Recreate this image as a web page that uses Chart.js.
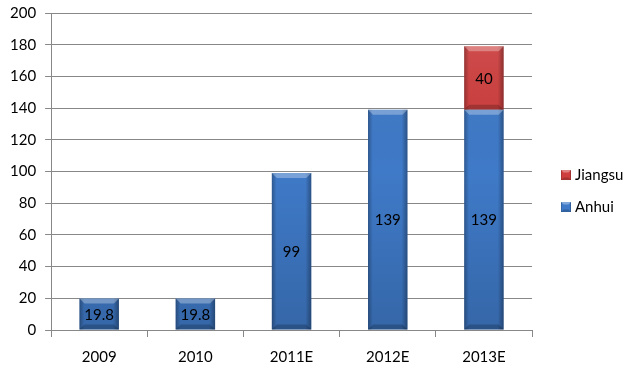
<!DOCTYPE html>
<html><head><meta charset="utf-8">
<script src="https://cdn.jsdelivr.net/npm/chart.js@4/dist/chart.umd.min.js"></script>
<style>html,body{margin:0;padding:0;background:#fff}#wrap{width:639px;height:377px}</style>
</head><body><div id="wrap"><canvas id="c" width="639" height="377"></canvas></div>
<script>
const categories = ["2009", "2010", "2011E", "2012E", "2013E"];
const anhui = [19.8, 19.8, 99, 139, 139];
const jiangsu = [null, null, null, null, 40];
const yTicks = [0, 20, 40, 60, 80, 100, 120, 140, 160, 180, 200];
const legendOrder = ["Jiangsu", "Anhui"];

const FONT = "'Lato', 'Open Sans', sans-serif";

function shade(ctx, l, t, width, h, e, topA, botA) {
  const r = l + width, b = t + h;
  const g = ctx.createLinearGradient(l, 0, r, 0);
  g.addColorStop(0, 'rgba(0,0,0,0.28)');
  g.addColorStop(0.12, 'rgba(0,0,0,0.0)');
  g.addColorStop(0.85, 'rgba(0,0,0,0.0)');
  g.addColorStop(1, 'rgba(0,0,0,0.32)');
  ctx.fillStyle = g;
  ctx.fillRect(l, t, width, h);
  ctx.beginPath();
  ctx.moveTo(l, t); ctx.lineTo(r, t); ctx.lineTo(r - e, t + e); ctx.lineTo(l + e, t + e); ctx.closePath();
  ctx.fillStyle = 'rgba(255,255,255,' + topA + ')';
  ctx.fill();
  ctx.beginPath();
  ctx.moveTo(l, b); ctx.lineTo(r, b); ctx.lineTo(r - e, b - e); ctx.lineTo(l + e, b - e); ctx.closePath();
  ctx.fillStyle = 'rgba(0,0,0,' + botA + ')';
  ctx.fill();
}

const bevel = {
  id: 'bevel',
  afterDatasetsDraw(chart) {
    const ctx = chart.ctx;
    const ca = chart.chartArea;
    chart.data.datasets.forEach((ds, di) => {
      const meta = chart.getDatasetMeta(di);
      meta.data.forEach((bar, i) => {
        const v = ds.data[i];
        if (v == null) return;
        const { x, y, base, width } = bar.getProps(['x', 'y', 'base', 'width'], true);
        const l = x - width / 2, t = Math.min(y, base), b = Math.max(y, base);
        const h = b - t;
        const e = Math.min(5, h / 3);
        ctx.save();
        const vg = ctx.createLinearGradient(0, ca.top, 0, ca.bottom);
        vg.addColorStop(0, 'rgba(255,255,255,0.12)');
        vg.addColorStop(0.5, 'rgba(0,0,0,0)');
        vg.addColorStop(1, 'rgba(0,0,0,0.16)');
        ctx.fillStyle = vg;
        ctx.fillRect(l, t, width, h);
        shade(ctx, l, t, width, h, e, 0.3, 0.2);
        ctx.fillStyle = '#000';
        ctx.font = '15px ' + FONT;
        ctx.textAlign = 'center';
        ctx.textBaseline = 'middle';
        ctx.fillText(String(v), x, (t + b) / 2 + 1);
        ctx.restore();
      });
    });
    // legend
    const dsByLabel = {};
    chart.data.datasets.forEach(d => dsByLabel[d.label] = d);
    legendOrder.forEach((name, k) => {
      const d = dsByLabel[name];
      const my = 175 + k * 32;
      ctx.save();
      ctx.fillStyle = d.backgroundColor;
      ctx.fillRect(561, my - 5, 10, 10);
      shade(ctx, 561, my - 5, 10, 10, 2.5, 0.35, 0.2);
      ctx.fillStyle = '#000';
      ctx.font = '15px ' + FONT;
      ctx.textAlign = 'left';
      ctx.textBaseline = 'middle';
      ctx.fillText(name, 575, my);
      ctx.restore();
    });
  }
};

new Chart(document.getElementById('c'), {
  type: 'bar',
  data: {
    labels: categories,
    datasets: [
      { label: 'Anhui', data: anhui, backgroundColor: '#3f7ac8', borderWidth: 0, categoryPercentage: 1, barPercentage: 0.41 },
      { label: 'Jiangsu', data: jiangsu, backgroundColor: '#cf3e3e', borderWidth: 0, categoryPercentage: 1, barPercentage: 0.41 }
    ]
  },
  options: {
    responsive: false,
    animation: false,
    layout: { padding: { top: 0, left: 1, right: 107, bottom: 0 } },
    plugins: {
      tooltip: { enabled: false },
      legend: { display: false }
    },
    scales: {
      x: {
        stacked: true,
        grid: { offset: true, drawOnChartArea: false, color: '#888', tickLength: 7 },
        border: { color: '#888' },
        ticks: { color: '#000', font: { size: 15, family: FONT }, padding: 11 }
      },
      y: {
        stacked: true,
        min: 0, max: 200,
        afterBuildTicks(axis) { axis.ticks = yTicks.map(v => ({ value: v })); },
        afterFit(s) { s.paddingTop = Math.max(0, s.paddingTop - 5); },
        grid: { color: '#888', tickLength: 6 },
        border: { color: '#888' },
        ticks: { color: '#000', font: { size: 15, family: FONT }, padding: 9 }
      }
    }
  },
  plugins: [bevel]
});
</script></body></html>
